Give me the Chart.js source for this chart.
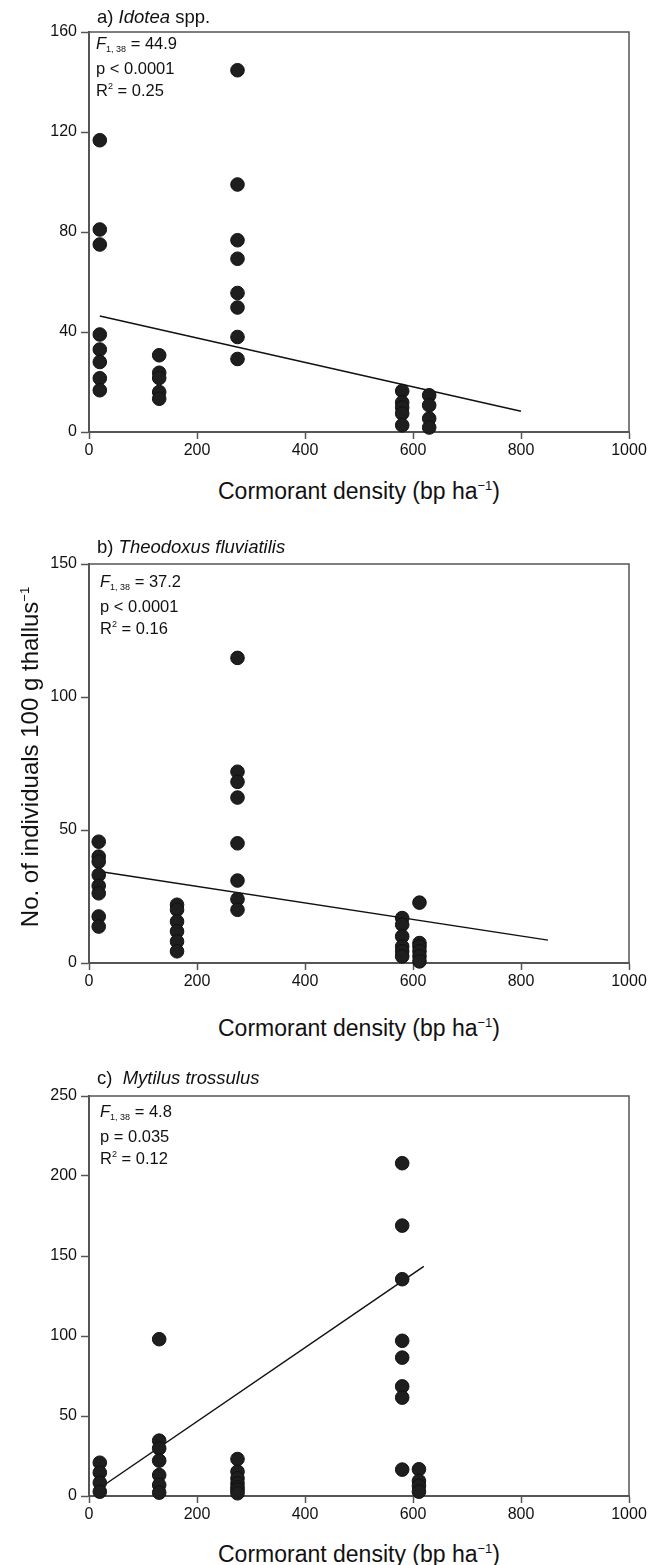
<!DOCTYPE html>
<html>
<head>
<meta charset="utf-8">
<script src="https://cdn.jsdelivr.net/npm/chart.js@4.4.1/dist/chart.umd.min.js"></script>
<style>
  body { margin: 0; background: #fff; width: 651px; height: 1565px; position: relative; overflow: hidden;
         font-family: "Liberation Sans", Arial, sans-serif; color: #111; }
  canvas { position: absolute; left: 0; }
  .ttl { position: absolute; left: 97px; font-size: 18.5px; line-height: 20px; white-space: nowrap; }
  .stat { position: absolute; font-size: 16.5px; line-height: 18.5px; white-space: nowrap; }
  .stat sub { font-size: 9px; vertical-align: -3px; }
  .stat sup { font-size: 9px; vertical-align: 7px; }
  .xt { position: absolute; left: 89px; width: 540px; text-align: center; font-size: 23px; line-height: 26px; white-space: nowrap; }
  .xt sup, .yt sup { font-size: 13px; vertical-align: 9px; }
  .yt { position: absolute; left: -175px; top: 744px; width: 400px; height: 26px; line-height: 26px; text-align: center;
        font-size: 24px; white-space: nowrap; transform: rotate(-90deg); }
</style>
</head>
<body>
<canvas id="chartA"></canvas>
<canvas id="chartB"></canvas>
<canvas id="chartC"></canvas>

<div class="ttl" style="top:7px">a) <i>Idotea</i> spp.</div>
<div class="stat" style="left:96px;top:34px"><i>F</i><sub>1, 38</sub> = 44.9<br>p &lt; 0.0001<br>R<sup>2</sup> = 0.25</div>
<div class="xt" style="top:473px">Cormorant density (bp ha<sup>−1</sup>)</div>

<div class="ttl" style="top:537px">b) <i>Theodoxus fluviatilis</i></div>
<div class="stat" style="left:100px;top:572px"><i>F</i><sub>1, 38</sub> = 37.2<br>p &lt; 0.0001<br>R<sup>2</sup> = 0.16</div>
<div class="xt" style="top:1010px">Cormorant density (bp ha<sup>−1</sup>)</div>
<div class="yt">No. of individuals 100 g thallus<sup>−1</sup></div>

<div class="ttl" style="top:1068px">c)&nbsp; <i>Mytilus trossulus</i></div>
<div class="stat" style="left:100px;top:1102px"><i>F</i><sub>1, 38</sub> = 4.8<br>p = 0.035<br>R<sup>2</sup> = 0.12</div>
<div class="xt" style="top:1536px">Cormorant density (bp ha<sup>−1</sup>)</div>

<script>
// a) Idotea spp.
const idoteaX = [20, 20, 20, 20, 20, 20, 20, 20,
                 130, 130, 130, 130, 130,
                 275, 275, 275, 275, 275, 275, 275, 275,
                 580, 580, 580, 580, 580,
                 630, 630, 630, 630];
const idoteaY = [116.7, 81, 75, 39, 33, 28, 21.5, 16.7,
                 30.7, 23.7, 21.6, 16, 13.3,
                 144.7, 99, 76.7, 69.3, 55.6, 49.8, 38, 29.2,
                 16.4, 11.8, 9.8, 7.4, 2.7,
                 14.7, 10.7, 5.4, 1.8];
const idoteaFitX = [20, 800];
const idoteaFitY = [46.4, 8.3];

// b) Theodoxus fluviatilis
const theoX = [18, 18, 18, 18, 18, 18, 18, 18,
               163, 163, 163, 163, 163, 163,
               275, 275, 275, 275, 275, 275, 275, 275,
               580, 580, 580, 580, 580, 580,
               612, 612, 612, 612, 612, 612];
const theoY = [45.6, 40, 38.1, 33.1, 29, 26.2, 17.5, 13.7,
               21.9, 20, 15.6, 11.9, 8.1, 4.4,
               114.7, 71.9, 68.1, 62.2, 45, 31, 24, 20,
               16.9, 14.4, 10, 6.2, 4.4, 2.5,
               22.7, 7.5, 6.2, 4.4, 2.5, 0.6];
const theoFitX = [20, 850];
const theoFitY = [34.4, 8.6];

// c) Mytilus trossulus
const mytX = [20, 20, 20, 20,
              130, 130, 130, 130, 130, 130, 130,
              275, 275, 275, 275, 275, 275, 275,
              580, 580, 580, 580, 580, 580, 580, 580,
              611, 611, 611, 611];
const mytY = [20.8, 14.6, 8.3, 2.7,
              98, 34.6, 29.8, 22.1, 13.1, 6.9, 2.1,
              23.1, 15.2, 11, 7.9, 5.4, 3.8, 1.7,
              208, 169, 135.5, 97, 86.5, 68.5, 61.5, 16.5,
              16.7, 9.4, 6.3, 2.7];
const mytFitX = [20, 620];
const mytFitY = [5, 143.5];

const xTicks = [0, 200, 400, 600, 800, 1000];

const AXIS = '#555';
const INK = '#111';

// top and right sides of the box
const frame = {
  id: 'frame',
  beforeDatasetsDraw(chart) {
    const a = chart.chartArea, ctx = chart.ctx;
    ctx.save();
    ctx.strokeStyle = AXIS;
    ctx.lineWidth = 1.5;
    ctx.beginPath();
    ctx.moveTo(a.left, a.top);
    ctx.lineTo(a.right, a.top);
    ctx.lineTo(a.right, a.bottom);
    ctx.stroke();
    ctx.restore();
  }
};

function makeChart(id, plotTop, plotBottom, xs, ys, fitX, fitY, yMax, yStep) {
  const cv = document.getElementById(id);
  const top = plotTop - 32;
  const h = plotBottom - plotTop + 32 + 30;
  cv.width = 651;
  cv.height = h;
  cv.style.top = top + 'px';
  cv.style.width = '651px';
  cv.style.height = h + 'px';

  new Chart(cv.getContext('2d'), {
    type: 'scatter',
    data: {
      datasets: [{
        data: xs.map((x, i) => ({ x: x, y: ys[i] })),
        backgroundColor: '#1e1e1e',
        borderColor: '#111',
        borderWidth: 1,
        pointRadius: 6.8,
        clip: false
      }, {
        type: 'line',
        data: fitX.map((x, i) => ({ x: x, y: fitY[i] })),
        borderColor: '#111',
        borderWidth: 1.5,
        pointRadius: 0,
        fill: false
      }]
    },
    options: {
      responsive: false,
      animation: false,
      layout: { padding: { top: 32, right: 22, left: 0, bottom: 0 } },
      plugins: { legend: { display: false }, tooltip: { enabled: false } },
      scales: {
        x: {
          type: 'linear', min: 0, max: 1000,
          afterFit: s => { s.height = 30; },
          afterBuildTicks: s => { s.ticks = xTicks.map(v => ({ value: v })); },
          ticks: { color: INK, font: { family: 'Liberation Sans', size: 16 }, padding: 2,
                   callback: v => String(v) },
          grid: { drawOnChartArea: false, drawTicks: true, tickLength: 7, tickColor: AXIS, tickWidth: 1.5 },
          border: { color: AXIS, width: 2 }
        },
        y: {
          min: 0, max: yMax,
          afterFit: s => { s.width = 89; },
          ticks: { stepSize: yStep, color: INK, font: { family: 'Liberation Sans', size: 16 }, padding: 4,
                   callback: v => String(v) },
          grid: { drawOnChartArea: false, drawTicks: true, tickLength: 8, tickColor: AXIS, tickWidth: 1.5 },
          border: { color: AXIS, width: 2 }
        }
      }
    },
    plugins: [frame]
  });
}

makeChart('chartA', 32, 432, idoteaX, idoteaY, idoteaFitX, idoteaFitY, 160, 40);
makeChart('chartB', 564, 963, theoX, theoY, theoFitX, theoFitY, 150, 50);
makeChart('chartC', 1096, 1496, mytX, mytY, mytFitX, mytFitY, 250, 50);
</script>
</body>
</html>
